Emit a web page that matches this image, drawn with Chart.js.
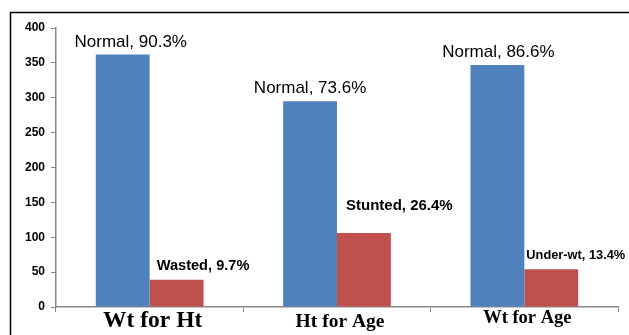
<!DOCTYPE html>
<html><head><meta charset="utf-8">
<script src="https://cdn.jsdelivr.net/npm/chart.js@4/dist/chart.umd.min.js"></script>
<style>html,body{margin:0;padding:0;background:#fff;overflow:hidden}#wrap{width:629px;height:335px;position:relative}</style>
</head><body><div id="wrap"><canvas id="c" width="629" height="335"></canvas></div>
<script>
const categories = ["Wt for Ht", "Ht for Age", "Wt for Age"];
const normalValues = [362, 295, 347];
const otherValues = [39, 106, 54];
const normalLabels = ["Normal, 90.3%", "Normal, 73.6%", "Normal, 86.6%"];
const otherLabels = ["Wasted, 9.7%", "Stunted, 26.4%", "Under-wt, 13.4%"];
const yTicks = [0, 50, 100, 150, 200, 250, 300, 350, 400];

// label styling (not data)
const catFont = [23.5, 19.5, 18.5];
const catBase = [327, 327, 323];
const normDx = [8, 0, 1];
const normDy = [-8, -8, -8];
const otherFs = [14.6, 15, 12.8];
const otherDx = [7, 9, 2];
const otherDy = [-10, -23, -10];

const labelPlugin = {
  id: 'labels',
  beforeDraw(chart) {
    const ctx = chart.ctx;
    ctx.save();
    ctx.fillStyle = '#fff';
    ctx.fillRect(0, 0, chart.width, chart.height);
    ctx.strokeStyle = '#000';
    ctx.lineWidth = 1.5;
    ctx.strokeRect(10.5, 12.5, 700, 400);
    ctx.restore();
  },
  afterDraw(chart) {
    const ctx = chart.ctx;
    ctx.save();
    ctx.fillStyle = '#000';
    ctx.textBaseline = 'alphabetic';
    const m0 = chart.getDatasetMeta(0), m1 = chart.getDatasetMeta(1);
    m0.data.forEach((b, i) => {
      ctx.font = '17px "Liberation Sans", Arial, sans-serif';
      ctx.textAlign = 'center';
      ctx.fillText(normalLabels[i], b.x + normDx[i], b.y + normDy[i]);
    });
    m1.data.forEach((b, i) => {
      ctx.font = 'bold ' + otherFs[i] + 'px "Liberation Sans", Arial, sans-serif';
      ctx.textAlign = 'left';
      ctx.fillText(otherLabels[i], b.x - b.width / 2 + otherDx[i], b.y + otherDy[i]);
    });
    const xs = chart.scales.x;
    categories.forEach((c, i) => {
      ctx.font = 'bold ' + catFont[i] + 'px "Liberation Serif", "Times New Roman", serif';
      ctx.textAlign = 'center';
      ctx.fillText(c, xs.getPixelForValue(i) + 3, catBase[i]);
    });
    ctx.restore();
  }
};

new Chart(document.getElementById('c'), {
  type: 'bar',
  data: {
    labels: categories,
    datasets: [
      { data: normalValues, backgroundColor: '#4F81BD', borderWidth: 0 },
      { data: otherValues, backgroundColor: '#C0504D', borderWidth: 0 }
    ]
  },
  options: {
    responsive: false,
    animation: false,
    devicePixelRatio: 1,
    layout: { padding: { left: 0, right: 11, top: 28, bottom: 0 } },
    plugins: { legend: { display: false }, tooltip: { enabled: false } },
    datasets: { bar: { categoryPercentage: 0.575, barPercentage: 1 } },
    scales: {
      y: {
        min: 0, max: 400,
        afterFit(s) { s.width = 56; },
        afterBuildTicks(s) { s.ticks = yTicks.map(v => ({ value: v })); },
        grid: { drawOnChartArea: false, color: '#888', tickLength: 5, tickColor: '#888' },
        border: { color: '#888', width: 1.5 },
        ticks: { color: '#000', padding: 6, font: { family: '"Liberation Sans", Arial, sans-serif', size: 12, weight: 'bold' } }
      },
      x: {
        afterFit(s) { s.height = 28; },
        grid: { drawOnChartArea: false, offset: true, color: '#888', tickLength: 5, tickColor: '#888' },
        border: { color: '#888', width: 1.5 },
        ticks: { display: false }
      }
    }
  },
  plugins: [labelPlugin]
});
</script></body></html>
